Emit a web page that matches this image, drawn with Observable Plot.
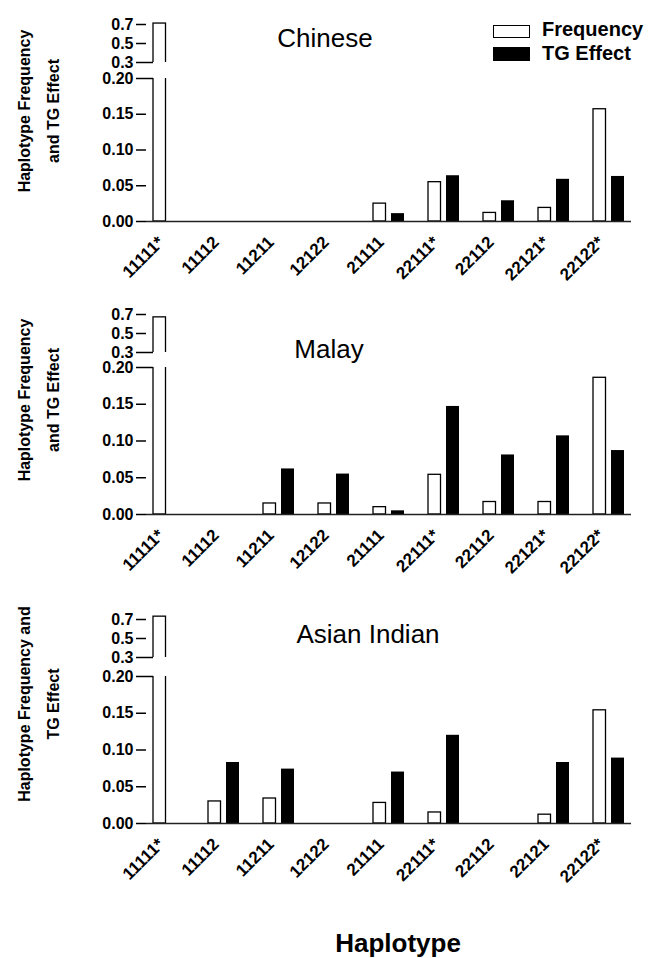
<!DOCTYPE html>
<html><head><meta charset="utf-8">
<script src="https://cdn.jsdelivr.net/npm/d3@7"></script>
<script src="https://cdn.jsdelivr.net/npm/@observablehq/plot@0.6"></script>
<style>
body{margin:0;background:#fff;}
#chart{position:relative;width:650px;height:958px;font-family:"Liberation Sans",Arial,Helvetica,sans-serif;color:#000;overflow:hidden;background:#fff}
.abs{position:absolute;white-space:nowrap;line-height:1}
.plot{position:absolute;left:0}
.ylab{position:absolute;white-space:nowrap;font-weight:bold;font-size:16px;line-height:29px;text-align:center;transform:translate(-50%,-50%) rotate(-90deg)}
</style></head><body><div id="chart"></div><script>
// ---- data ----
const haplotypesChinese = ["11111*","11112","11211","12122","21111","22111*","22112","22121*","22122*"];
const frequencyChinese  = [0.71, null, null, null, 0.025, 0.055, 0.012, 0.019, 0.157];
const tgEffectChinese   = [null, null, null, null, 0.011, 0.064, 0.029, 0.059, 0.063];

const haplotypesMalay = ["11111*","11112","11211","12122","21111","22111*","22112","22121*","22122*"];
const frequencyMalay  = [0.67, null, 0.015, 0.015, 0.010, 0.054, 0.017, 0.017, 0.186];
const tgEffectMalay   = [null, null, 0.062, 0.055, 0.005, 0.147, 0.081, 0.107, 0.087];

const haplotypesIndian = ["11111*","11112","11211","12122","21111","22111*","22112","22121","22122*"];
const frequencyIndian  = [0.73, 0.030, 0.034, null, 0.028, 0.015, null, 0.012, 0.154];
const tgEffectIndian   = [null, 0.083, 0.074, null, 0.070, 0.120, null, 0.083, 0.089];

const upperTicks = [0.3, 0.5, 0.7];
const lowerTicks = [0, 0.05, 0.10, 0.15, 0.20];
const seriesNames = ["Frequency", "TG Effect"];

// ---- layout ----
const panels = [
  {title:"Chinese", haps:haplotypesChinese, freq:frequencyChinese, tg:tgEffectChinese, upperMax:0.8,
   upperTop:0, upperMT:14.5, upperFH:47.5, lowerTop:70, lowerFH:143,
   ylab:["Haplotype Frequency","and TG Effect"], ylabCy:111, titleX:325, titleBase:47},
  {title:"Malay", haps:haplotypesMalay, freq:frequencyMalay, tg:tgEffectMalay, upperMax:0.7,
   upperTop:300, upperMT:14, upperFH:38, lowerTop:359, lowerFH:147,
   ylab:["Haplotype Frequency","and TG Effect"], ylabCy:400, titleX:329, titleBase:358},
  {title:"Asian Indian", haps:haplotypesIndian, freq:frequencyIndian, tg:tgEffectIndian, upperMax:0.78,
   upperTop:597, upperMT:14.4, upperFH:45.6, lowerTop:668, lowerFH:147,
   ylab:["Haplotype Frequency and","TG Effect"], ylabCy:704, titleX:368, titleBase:643}
];

const chart = document.getElementById("chart");
const FONT = '"Liberation Sans", Arial, Helvetica, sans-serif';
const common = {
  width: 650, marginLeft: 146, marginRight: 19,
  style: {fontFamily: FONT, fontSize: "16px", fontWeight: "bold", background: "transparent", overflow: "visible", color: "black"}
};
const xScale = (haps) => ({domain: haps, paddingInner: 0.4364, paddingOuter: 0.127, label: null});
const SW = 1.5;

function addAbs(el, top){ el.classList.add("plot"); el.style.top = top + "px"; chart.appendChild(el); }

for (const p of panels) {
  const rows = p.haps.map((h, i) => ({hap: h, freq: p.freq[i], tg: p.tg[i]}));
  const freqBars = Plot.barY(rows, {x: "hap", y: "freq", fill: "white", stroke: "black", strokeWidth: 1.3, insetRight: 18.5, clip: true});
  const tgBars = Plot.barY(rows, {x: "hap", y: "tg", fill: "black", insetLeft: 18, clip: true});

  // upper (broken) segment
  const upper = Plot.plot({
    ...common,
    height: p.upperMT + p.upperFH + 8, marginTop: p.upperMT, marginBottom: 8,
    x: {...xScale(p.haps), axis: null},
    y: {domain: [0.3, p.upperMax], label: null},
    marks: [
      freqBars,
      tgBars,
      Plot.tickY([{hap: p.haps[0], y: 0.3}], {x: "hap", y: "y", insetLeft: -7, insetRight: 31, strokeWidth: SW}),
      Plot.axisY({ticks: upperTicks, tickFormat: d3.format(".1f"), tickSize: 10, tickPadding: 3, line: true, label: null, strokeWidth: SW})
    ]
  });
  addAbs(upper, p.upperTop);

  // lower segment
  const lower = Plot.plot({
    ...common,
    height: 8 + p.lowerFH + 72, marginTop: 8, marginBottom: 72,
    x: {...xScale(p.haps)},
    y: {domain: [0, 0.2], label: null},
    marks: [
      freqBars,
      tgBars,
      Plot.tickY([{hap: p.haps[0], y: 0.2}], {x: "hap", y: "y", insetLeft: -7, insetRight: 31, strokeWidth: SW}),
      Plot.ruleY([0], {strokeWidth: SW, stroke: "#222"}),
      Plot.axisY({ticks: lowerTicks, tickFormat: d3.format(".2f"), tickSize: 10, tickPadding: 3, line: true, label: null, strokeWidth: SW}),
      Plot.axisX({tickRotate: -45, tickSize: 0, tickPadding: 18, dx: -8, label: null, fontSize: 17, fontWeight: "bold"})
    ]
  });
  addAbs(lower, p.lowerTop);

  // title
  const t = document.createElement("div");
  t.className = "abs";
  t.textContent = p.title;
  t.style.fontSize = "26px";
  t.style.left = p.titleX + "px";
  t.style.top = (p.titleBase - 0.8465 * 26) + "px";
  t.style.transform = "translateX(-50%)";
  chart.appendChild(t);

  // y label
  const yl = document.createElement("div");
  yl.className = "ylab";
  yl.innerHTML = p.ylab.join("<br>");
  yl.style.left = "39px";
  yl.style.top = p.ylabCy + "px";
  chart.appendChild(yl);
}

// legend
function box(left, top, w, h, fill){
  const b = document.createElement("div");
  b.style.cssText = `position:absolute;left:${left}px;top:${top}px;width:${w}px;height:${h}px;box-sizing:border-box;border:1.5px solid #000;background:${fill}`;
  chart.appendChild(b);
}
function label(text, left, base, size, bold){
  const d = document.createElement("div");
  d.className = "abs";
  d.textContent = text;
  d.style.fontSize = size + "px";
  d.style.fontWeight = bold ? "bold" : "normal";
  d.style.left = left + "px";
  d.style.top = (base - 0.8465 * size) + "px";
  chart.appendChild(d);
  return d;
}
box(493, 24.5, 37, 13, "#fff");
box(493, 47, 37, 14, "#000");
label(seriesNames[0], 542, 36, 20, true);
label(seriesNames[1], 542, 59.5, 20, true);

// x title
const xt = label("Haplotype", 398, 952, 26, true);
xt.style.transform = "translateX(-50%)";
</script></body></html>
